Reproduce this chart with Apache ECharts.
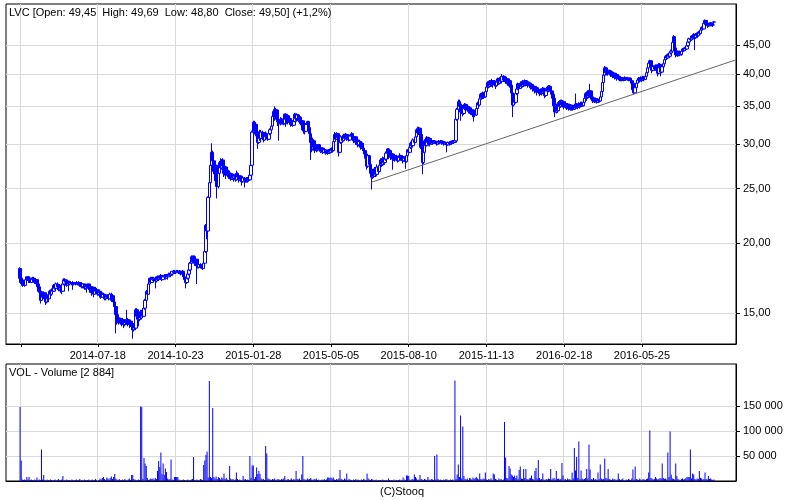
<!DOCTYPE html>
<html><head><meta charset="utf-8">
<script src="https://cdn.jsdelivr.net/npm/echarts@6/dist/echarts.min.js"></script>
<style>html,body{margin:0;padding:0;background:#fff}#c{width:800px;height:500px}</style>
</head><body><div id="c"></div>
<script>
const ticker = 'LVC';
const firstDate = '2014-03-27';
const categoryCount = 648;
const dataStartIndex = 12;
const tickDates = ['2014-04-15','2014-07-18','2014-10-23','2015-01-28','2015-05-05','2015-08-10','2015-11-13','2016-02-18','2016-05-25'];
const labelDates = ['2014-07-18','2014-10-23','2015-01-28','2015-05-05','2015-08-10','2015-11-13','2016-02-18','2016-05-25'];
const priceTicks = [15,20,25,30,35,40,45];
const volumeTicksK = [50,100,150];
const lastBar = {open:49.45, high:49.69, low:48.80, close:49.50, change:1.2, volume:2884};
const trendLine = {startIndex:324, startPrice:25.65, endIndex:647, endPrice:42.35};
// [open, close, low, high] per session
const ohlc = [
[18.0,17.3,17.2,18.1],[17.3,17.0,16.9,17.4],[17.0,16.8,16.7,17.1],[16.8,17.1,16.8,17.2],[17.1,16.8,16.7,17.1],[16.8,17.2,16.8,17.3],[17.2,17.4,17.1,17.4],[17.4,17.2,17.1,17.4],[17.2,17.3,17.0,17.4],[17.3,17.0,17.0,17.4],
[17.0,17.3,17.0,17.3],[17.3,17.2,17.1,17.4],[17.2,17.3,17.1,17.4],[17.3,17.0,16.9,17.3],[17.0,17.2,17.0,17.3],[17.2,16.9,16.8,17.2],[16.9,16.7,16.6,17.0],[16.7,16.4,16.3,16.8],[16.4,15.8,15.6,16.5],[15.8,16.3,15.8,16.4],
[16.3,16.0,15.9,16.4],[16.0,16.3,15.9,16.4],[16.3,15.9,15.8,16.3],[15.9,15.7,15.5,16.0],[15.7,16.1,15.6,16.2],[16.1,15.9,15.7,16.2],[15.9,16.4,15.9,16.5],[16.4,16.2,16.1,16.5],[16.2,16.5,16.1,16.6],[16.5,16.4,16.3,16.7],
[16.4,16.8,16.4,16.9],[16.8,16.6,16.5,16.9],[16.6,16.9,16.5,17.0],[16.9,16.7,16.6,17.0],[16.7,16.5,16.4,16.8],[16.5,16.8,16.4,16.9],[16.8,16.6,16.3,16.8],[16.6,16.4,16.2,16.7],[16.4,16.9,16.4,17.0],[16.9,17.2,16.8,17.3],
[17.2,17.1,17.0,17.3],[17.1,16.8,16.7,17.2],[16.8,17.1,16.8,17.2],[17.1,16.9,16.4,17.1],[16.9,17.0,16.8,17.1],[17.0,17.0,16.9,17.1],[17.0,16.9,16.8,17.0],[16.9,17.0,16.5,17.1],[17.0,16.9,16.8,17.0],[16.9,16.9,16.8,17.0],
[16.9,17.0,16.9,17.1],[17.0,16.9,16.8,17.0],[16.9,17.0,16.8,17.1],[17.0,16.8,16.7,17.0],[16.8,16.9,16.7,17.0],[16.9,16.7,16.6,17.0],[16.7,16.9,16.6,16.9],[16.9,16.6,16.5,16.9],[16.6,16.8,16.5,16.9],[16.8,16.7,16.3,16.8],
[16.7,16.9,16.6,16.9],[16.9,16.6,16.5,16.9],[16.6,16.5,16.3,16.7],[16.5,16.7,16.4,16.8],[16.7,16.3,16.1,16.7],[16.3,16.2,16.0,16.4],[16.2,16.6,16.2,16.7],[16.6,16.4,16.3,16.7],[16.4,16.5,16.3,16.6],[16.5,16.2,16.1,16.5],
[16.2,16.4,16.1,16.5],[16.4,16.3,16.1,16.4],[16.3,16.0,15.9,16.3],[16.0,16.2,16.0,16.3],[16.2,16.2,16.1,16.3],[16.2,15.9,15.8,16.2],[15.9,16.1,15.8,16.2],[16.1,16.0,15.9,16.2],[16.0,16.1,15.9,16.2],[16.1,15.9,15.8,16.1],
[15.9,16.2,15.9,16.3],[16.2,15.8,15.7,16.3],[15.8,16.1,15.7,16.2],[16.1,15.7,15.6,16.1],[15.7,15.4,15.3,15.8],[15.4,14.9,13.8,15.4],[14.9,14.5,14.3,15.0],[14.5,14.7,14.4,14.8],[14.7,14.4,14.3,14.8],[14.4,14.6,14.3,14.7],
[14.6,14.4,14.2,14.7],[14.4,14.6,14.3,14.7],[14.6,14.3,14.1,14.6],[14.3,14.5,14.2,14.6],[14.5,14.4,14.3,14.6],[14.4,14.6,14.3,15.2],[14.6,14.4,14.2,14.7],[14.4,14.3,14.1,14.5],[14.3,14.5,14.2,14.6],[14.5,14.2,14.0,14.5],
[14.2,14.0,13.5,14.3],[14.0,14.3,13.9,14.4],[14.3,14.1,14.0,14.4],[14.1,15.2,14.0,15.3],[15.2,14.8,14.6,15.3],[14.8,14.6,14.2,15.0],[14.6,15.0,14.5,15.1],[15.0,14.7,14.6,15.2],[14.7,15.1,14.6,15.2],[15.1,14.8,14.7,15.3],
[14.8,15.3,14.8,15.4],[15.3,15.8,15.2,15.9],[15.8,16.4,15.7,16.5],[16.4,16.2,16.1,16.5],[16.2,16.9,16.2,17.0],[16.9,17.3,16.8,17.3],[17.3,17.0,16.9,17.4],[17.0,17.3,17.0,17.4],[17.3,17.2,17.1,17.4],[17.2,17.3,17.1,17.4],
[17.3,17.1,16.6,17.4],[17.1,17.4,17.0,17.4],[17.4,17.2,17.1,17.5],[17.2,17.4,17.1,17.5],[17.4,17.3,17.2,17.5],[17.3,17.5,17.2,17.6],[17.5,17.2,17.1,17.5],[17.2,17.4,17.2,17.5],[17.4,17.5,17.3,17.6],[17.5,17.3,17.2,17.6],
[17.3,17.5,17.3,17.6],[17.5,17.4,17.2,17.6],[17.4,17.6,17.4,17.7],[17.6,17.5,17.4,17.7],[17.5,17.6,17.4,17.7],[17.6,17.8,17.5,17.8],[17.8,17.7,17.6,17.9],[17.7,17.8,17.6,17.9],[17.8,17.7,17.6,17.8],[17.7,17.8,17.7,17.9],
[17.8,17.8,17.7,17.9],[17.8,17.7,17.6,17.8],[17.7,17.8,17.6,17.9],[17.8,17.6,17.5,17.8],[17.6,17.8,17.5,17.9],[17.8,17.4,17.3,17.8],[17.4,17.2,17.1,17.5],[17.2,17.0,16.6,17.3],[17.0,17.3,16.9,17.4],[17.3,17.6,17.2,17.7],
[17.6,17.9,17.5,18.0],[17.9,18.4,17.8,18.5],[18.4,18.9,18.3,19.0],[18.9,18.5,18.4,19.0],[18.5,18.9,18.4,19.0],[18.9,18.4,18.2,19.0],[18.4,18.7,18.3,18.9],[18.7,18.2,16.9,18.7],[18.2,18.1,18.0,18.3],[18.1,18.3,18.0,18.4],
[18.3,18.1,18.0,18.4],[18.1,18.2,18.0,18.3],[18.2,18.0,17.9,18.3],[18.0,18.4,18.0,18.5],[18.4,19.3,18.3,19.4],[19.3,21.5,19.2,21.6],[21.5,21.0,20.3,21.6],[21.0,24.1,21.0,24.2],[24.1,25.6,24.0,25.7],[25.6,27.5,25.5,27.9],
[27.5,29.0,27.0,30.1],[29.0,28.0,27.5,29.2],[28.0,26.8,26.5,28.3],[26.8,27.5,26.0,28.0],[27.5,25.8,25.5,27.6],[25.8,25.2,24.0,26.2],[25.2,26.6,25.0,26.8],[26.6,27.8,26.4,28.0],[27.8,27.2,26.8,28.3],[27.2,28.1,27.0,28.2],
[28.1,27.4,27.0,28.3],[27.4,26.6,26.2,27.5],[26.6,27.3,26.4,27.5],[27.3,26.4,26.0,27.4],[26.4,26.8,26.2,27.0],[26.8,26.2,26.0,27.0],[26.2,26.6,26.0,26.9],[26.6,26.0,25.8,26.7],[26.0,26.5,25.9,26.6],[26.5,26.1,25.9,26.6],
[26.1,26.3,25.7,26.4],[26.3,25.9,25.7,26.4],[25.9,26.6,25.8,26.9],[26.6,26.2,26.0,26.7],[26.2,25.9,25.6,26.3],[25.9,26.3,25.8,26.4],[26.3,26.0,25.8,26.4],[26.0,25.7,25.3,26.1],[25.7,26.1,25.6,26.2],[26.1,25.8,25.1,26.2],
[25.8,26.0,25.6,26.1],[26.0,25.8,25.6,26.2],[25.8,26.1,25.6,26.2],[26.1,25.9,25.7,26.3],[25.9,26.4,25.8,26.5],[26.4,27.5,26.3,27.6],[27.5,31.5,27.4,31.7],[31.5,32.8,31.3,33.0],[32.8,31.6,31.2,33.0],[31.6,32.5,31.4,32.8],
[32.5,31.0,30.3,32.6],[31.0,30.2,29.4,31.2],[30.2,31.3,30.0,31.6],[31.3,30.7,30.4,31.8],[30.7,31.5,30.5,31.8],[31.5,30.8,30.6,31.7],[30.8,30.5,30.2,31.0],[30.5,31.4,30.4,31.5],[31.4,30.9,30.6,31.6],[30.9,31.2,30.7,31.4],
[31.2,30.6,30.4,31.3],[30.6,31.3,30.5,31.5],[31.3,31.8,31.1,32.0],[31.8,32.3,31.6,32.5],[32.3,33.6,32.2,33.8],[33.6,34.3,33.2,34.6],[34.3,33.5,33.0,35.0],[33.5,34.5,33.3,34.8],[34.5,33.2,32.8,34.6],[33.2,33.0,32.3,33.6],
[33.0,32.6,30.4,33.2],[32.6,33.2,32.4,33.5],[33.2,32.7,32.5,33.4],[32.7,33.1,32.5,33.3],[33.1,32.6,32.4,33.2],[32.6,33.9,32.5,34.0],[33.9,33.2,32.2,34.0],[33.2,33.7,33.0,33.9],[33.7,32.8,32.5,33.8],[32.8,33.3,32.6,33.5],
[33.3,32.5,32.2,33.4],[32.5,33.0,32.3,33.2],[33.0,32.4,32.2,33.1],[32.4,32.9,32.3,33.1],[32.9,33.9,32.8,34.1],[33.9,33.3,33.0,34.0],[33.3,33.8,33.1,34.0],[33.8,33.0,32.8,33.9],[33.0,33.5,32.9,33.7],[33.5,32.6,32.4,33.6],
[32.6,33.0,31.9,33.2],[33.0,31.8,31.6,33.1],[31.8,32.4,31.3,32.6],[32.4,31.6,31.2,32.5],[31.6,32.5,31.5,32.7],[32.5,32.9,32.2,33.0],[32.9,32.1,31.8,33.0],[32.1,31.3,31.0,32.2],[31.3,30.2,28.1,31.4],[30.2,29.4,29.0,30.5],
[29.4,30.4,29.2,30.8],[30.4,29.6,29.3,30.6],[29.6,29.2,28.9,29.8],[29.2,29.8,29.0,30.0],[29.8,29.3,29.1,30.0],[29.3,29.9,29.2,30.0],[29.9,29.4,29.2,30.0],[29.4,29.1,28.9,29.6],[29.1,29.5,29.0,29.6],[29.5,29.0,28.8,29.6],
[29.0,29.3,28.9,29.4],[29.3,28.9,28.7,29.4],[28.9,29.2,28.8,29.3],[29.2,28.9,28.7,29.3],[28.9,29.3,28.8,29.4],[29.3,29.0,28.8,29.4],[29.0,29.4,28.9,29.5],[29.4,29.2,29.0,29.6],[29.2,30.3,29.1,30.5],[30.3,31.2,30.2,31.5],
[31.2,30.6,30.4,31.4],[30.6,31.3,30.5,31.5],[31.3,30.8,30.4,31.4],[30.8,29.0,28.5,30.9],[29.0,30.2,28.9,30.4],[30.2,30.9,30.0,31.1],[30.9,30.4,30.2,31.1],[30.4,31.1,30.3,31.3],[31.1,30.7,30.5,31.3],[30.7,31.2,30.6,31.4],
[31.2,30.6,30.4,31.3],[30.6,30.9,30.5,31.1],[30.9,30.5,30.3,31.0],[30.5,31.0,30.4,31.2],[31.0,31.3,30.8,31.5],[31.3,30.8,30.6,31.4],[30.8,30.4,30.1,30.9],[30.4,30.9,30.3,31.0],[30.9,30.2,29.9,31.0],[30.2,30.5,30.0,30.7],
[30.5,29.9,29.6,30.6],[29.9,30.3,29.7,30.5],[30.3,29.6,29.3,30.4],[29.6,30.1,29.4,30.3],[30.1,29.5,29.2,30.2],[29.5,29.2,29.0,29.7],[29.2,28.8,28.5,29.3],[28.8,28.3,28.0,28.9],[28.3,27.4,27.0,28.5],[27.4,28.6,27.2,28.8],
[28.6,27.6,27.3,28.7],[27.6,26.6,26.3,27.8],[26.6,26.2,24.9,26.8],[26.2,26.9,26.0,27.1],[26.9,26.3,26.1,27.0],[26.3,27.1,26.2,27.3],[27.1,26.5,26.2,27.2],[26.5,27.3,26.4,27.6],[27.3,26.8,26.5,27.4],[26.8,27.5,26.7,27.7],
[27.5,28.1,27.3,28.3],[28.1,27.6,27.3,28.2],[27.6,28.3,27.4,28.5],[28.3,27.8,27.5,28.4],[27.8,28.2,27.6,28.4],[28.2,28.9,28.0,29.1],[28.9,29.4,28.7,29.5],[29.4,28.7,28.2,29.5],[28.7,29.2,28.5,29.4],[29.2,28.4,28.1,29.3],
[28.4,28.8,28.2,29.0],[28.8,28.2,27.0,28.9],[28.2,28.6,28.0,28.8],[28.6,28.1,27.9,28.7],[28.1,28.5,28.0,28.7],[28.5,28.0,27.8,28.6],[28.0,28.4,27.9,28.6],[28.4,28.6,28.2,28.9],[28.6,28.2,28.0,28.7],[28.2,28.5,28.1,28.7],
[28.5,28.0,27.7,28.6],[28.0,28.3,27.9,28.5],[28.3,27.9,27.1,28.4],[27.9,28.6,27.8,28.7],[28.6,29.3,28.5,29.4],[29.3,29.0,28.8,29.5],[29.0,29.6,28.9,29.7],[29.6,30.1,29.4,30.3],[30.1,29.8,29.6,30.3],[29.8,30.5,29.7,30.7],
[30.5,30.2,30.0,30.8],[30.2,30.9,30.1,31.1],[30.9,31.8,30.8,32.0],[31.8,31.4,31.1,32.2],[31.4,32.0,31.2,32.2],[32.0,31.2,30.9,32.1],[31.2,29.6,29.4,31.3],[29.6,27.8,26.5,29.7],[27.8,29.0,27.6,29.3],[29.0,30.4,28.9,30.6],
[30.4,29.8,29.5,30.6],[29.8,30.8,29.7,31.0],[30.8,30.2,29.9,30.9],[30.2,30.7,30.0,30.9],[30.7,30.0,29.7,30.8],[30.0,30.4,29.9,30.6],[30.4,30.1,29.9,30.5],[30.1,30.4,30.0,30.5],[30.4,30.2,30.0,30.5],[30.2,30.3,30.0,30.4],
[30.3,30.0,29.8,30.4],[30.0,30.3,29.9,30.4],[30.3,30.2,30.0,30.5],[30.2,30.4,30.1,30.5],[30.4,30.1,29.9,30.5],[30.1,30.3,30.0,30.4],[30.3,30.0,29.8,30.4],[30.0,30.2,29.9,30.3],[30.2,30.1,29.9,30.3],[30.1,29.9,29.0,30.2],
[29.9,30.2,29.8,30.3],[30.2,30.0,29.8,30.3],[30.0,30.3,29.9,30.4],[30.3,30.1,29.9,30.4],[30.1,30.4,30.0,30.5],[30.4,30.2,30.0,30.5],[30.2,30.4,30.1,30.5],[30.4,33.2,30.3,33.3],[33.2,34.6,33.0,34.8],[34.6,35.7,34.4,36.0],
[35.7,35.0,34.6,36.0],[35.0,34.2,33.0,35.2],[34.2,35.1,34.0,35.4],[35.1,34.0,33.6,35.2],[34.0,34.7,33.8,34.9],[34.7,35.3,34.5,35.5],[35.3,34.5,34.2,35.4],[34.5,35.0,34.3,35.2],[35.0,34.3,34.0,35.1],[34.3,34.8,34.1,35.0],
[34.8,34.0,33.8,34.9],[34.0,34.5,33.8,34.7],[34.5,33.8,33.5,34.6],[33.8,34.3,32.9,34.5],[34.3,33.8,33.5,34.4],[33.8,34.7,33.7,34.9],[34.7,35.5,34.5,35.7],[35.5,35.2,34.9,35.8],[35.2,36.1,35.0,36.3],[36.1,36.8,35.9,37.0],
[36.8,36.3,36.0,37.0],[36.3,37.0,36.1,37.2],[37.0,36.4,36.1,37.1],[36.4,37.2,36.3,37.4],[37.2,37.9,37.0,38.1],[37.9,38.6,37.6,38.8],[38.6,38.0,37.7,38.9],[38.0,38.7,37.8,39.0],[38.7,38.2,37.9,39.0],[38.2,38.9,38.0,39.2],
[38.9,38.3,37.8,39.0],[38.3,38.8,38.0,39.0],[38.8,38.1,37.6,38.9],[38.1,38.7,37.9,38.9],[38.7,39.2,38.4,39.4],[39.2,38.5,38.2,39.3],[38.5,39.3,38.3,39.5],[39.3,38.8,38.5,39.6],[38.8,39.6,38.6,40.0],[39.6,39.0,38.7,39.8],
[39.0,39.5,38.8,39.7],[39.5,38.7,38.4,39.6],[38.7,39.2,38.5,39.4],[39.2,38.4,38.1,39.3],[38.4,38.9,38.0,39.1],[38.9,38.2,37.8,39.0],[38.2,37.0,36.6,38.4],[37.0,35.2,33.5,37.1],[35.2,36.5,35.0,36.8],[36.5,35.6,35.2,36.7],
[35.6,36.9,35.4,37.1],[36.9,37.6,36.7,37.8],[37.6,38.4,37.4,38.6],[38.4,37.7,37.3,38.5],[37.7,38.5,37.6,38.8],[38.5,38.0,37.7,38.7],[38.0,38.8,37.8,39.0],[38.8,38.2,37.9,38.9],[38.2,38.9,38.0,39.1],[38.9,38.3,38.0,39.0],
[38.3,38.7,38.1,38.9],[38.7,38.1,37.8,38.8],[38.1,38.5,37.9,38.7],[38.5,37.8,37.5,38.6],[37.8,38.3,37.6,38.5],[38.3,37.6,37.2,38.4],[37.6,38.0,37.4,38.2],[38.0,37.3,36.9,38.1],[37.3,37.8,37.1,38.0],[37.8,37.1,36.6,37.9],
[37.1,37.5,36.8,37.7],[37.5,36.9,36.5,37.6],[36.9,37.5,36.7,37.7],[37.5,37.0,36.6,37.6],[37.0,37.7,36.8,37.9],[37.7,37.2,36.9,37.8],[37.2,36.6,36.2,37.3],[36.6,37.3,36.4,37.5],[37.3,37.9,37.1,38.1],[37.9,37.4,37.1,38.2],
[37.4,38.0,37.2,38.2],[38.0,37.3,37.0,38.1],[37.3,36.8,36.5,37.5],[36.8,36.2,35.8,36.9],[36.2,35.1,34.8,36.3],[35.1,34.2,33.5,35.3],[34.2,35.0,34.0,35.4],[35.0,34.4,34.1,35.2],[34.4,35.6,34.3,35.8],[35.6,35.0,34.7,35.9],
[35.0,35.8,34.8,36.0],[35.8,35.2,34.9,36.0],[35.2,35.7,35.0,35.9],[35.7,34.9,34.6,35.8],[34.9,35.4,34.7,35.6],[35.4,34.8,34.5,35.5],[34.8,35.3,34.6,35.5],[35.3,34.7,34.4,35.4],[34.7,35.2,34.5,35.4],[35.2,34.6,34.4,35.3],
[34.6,35.0,34.4,35.2],[35.0,34.6,34.4,35.1],[34.6,35.2,34.5,35.4],[35.2,34.8,34.6,36.9],[34.8,35.3,34.7,35.5],[35.3,34.9,34.6,35.4],[34.9,35.4,34.8,35.6],[35.4,35.0,34.7,35.5],[35.0,35.5,34.9,35.7],[35.5,35.1,34.9,35.7],
[35.1,35.6,35.0,35.8],[35.6,36.2,35.4,36.4],[36.2,36.9,36.0,37.1],[36.9,36.3,35.8,37.0],[36.3,37.2,36.1,37.4],[37.2,36.5,36.2,37.4],[36.5,37.3,36.3,38.4],[37.3,36.4,36.0,37.4],[36.4,35.8,35.5,36.5],[35.8,36.2,35.6,36.4],
[36.2,35.7,35.5,36.3],[35.7,36.1,35.6,36.3],[36.1,35.6,35.4,36.2],[35.6,36.0,35.5,36.2],[36.0,35.8,35.5,36.1],[35.8,36.4,35.7,36.6],[36.4,37.2,36.2,37.4],[37.2,38.6,37.0,38.8],[38.6,39.8,38.4,40.0],[39.8,41.0,39.6,41.3],
[41.0,40.2,39.8,41.2],[40.2,40.6,39.9,40.8],[40.6,40.0,39.7,40.8],[40.0,40.5,39.8,40.7],[40.5,39.8,39.5,40.6],[39.8,40.3,39.6,40.5],[40.3,39.6,39.3,40.4],[39.6,40.1,39.4,40.3],[40.1,39.4,39.1,40.2],[39.4,39.9,39.2,40.1],
[39.9,39.2,38.9,40.0],[39.2,39.6,39.0,39.8],[39.6,39.0,38.8,39.7],[39.0,39.4,38.8,39.6],[39.4,39.0,38.8,39.5],[39.0,39.3,38.9,39.5],[39.3,39.0,38.8,39.4],[39.0,39.4,38.9,39.6],[39.4,39.1,38.9,39.5],[39.1,39.3,38.9,39.5],
[39.3,39.0,38.8,39.4],[39.0,39.3,38.9,39.4],[39.3,38.9,38.8,39.4],[38.9,38.5,38.3,39.0],[38.5,37.5,37.2,38.6],[37.5,37.0,36.8,37.8],[37.0,37.8,36.9,38.0],[37.8,38.5,37.6,38.7],[38.5,39.0,38.3,39.2],[39.0,39.3,38.8,39.5],
[39.3,38.9,38.6,39.4],[38.9,39.4,38.8,39.6],[39.4,39.0,38.7,39.5],[39.0,39.5,38.9,39.7],[39.5,39.1,38.8,39.6],[39.1,39.6,39.0,39.8],[39.6,40.2,39.4,40.4],[40.2,41.0,40.0,41.2],[41.0,41.8,40.7,42.0],[41.8,42.2,41.5,42.4],
[42.2,41.4,41.0,42.3],[41.4,40.6,40.1,41.5],[40.6,41.2,40.4,41.4],[41.2,40.8,40.5,41.4],[40.8,41.4,40.5,41.6],[41.4,40.9,40.6,41.6],[40.9,40.1,39.6,41.0],[40.1,41.6,39.9,41.8],[41.6,41.0,40.7,41.8],[41.0,40.3,39.6,41.1],
[40.3,41.2,40.1,41.4],[41.2,41.7,41.0,41.9],[41.7,42.4,41.5,42.6],[42.4,43.0,42.2,43.2],[43.0,42.7,42.4,43.3],[42.7,43.3,42.5,43.5],[43.3,43.0,42.8,43.6],[43.0,43.6,42.9,43.8],[43.6,43.9,43.3,44.2],[43.9,45.5,43.8,45.8],
[45.5,46.6,45.2,46.9],[46.6,44.5,43.2,46.7],[44.5,43.4,42.8,44.6],[43.4,43.9,43.0,44.1],[43.9,43.2,42.9,44.0],[43.2,43.7,43.0,43.9],[43.7,43.3,43.0,44.0],[43.3,43.9,43.1,44.1],[43.9,44.3,43.7,44.5],[44.3,44.0,43.8,44.5],
[44.0,44.5,43.9,44.7],[44.5,44.3,44.0,44.8],[44.3,44.9,44.2,45.1],[44.9,45.6,44.7,45.8],[45.6,46.2,45.4,46.4],[46.2,46.0,45.7,46.5],[46.0,46.7,45.8,46.9],[46.7,46.3,46.0,47.0],[46.3,47.0,46.1,47.3],[47.0,46.4,44.1,47.1],
[46.4,47.1,46.2,47.3],[47.1,46.8,46.5,47.4],[46.8,47.5,46.6,47.7],[47.5,47.2,46.9,47.8],[47.2,47.9,47.0,48.1],[47.9,48.4,47.6,48.6],[48.4,48.1,47.8,48.6],[48.1,49.2,48.0,49.5],[49.2,49.8,48.9,50.0],[49.8,49.3,48.9,49.9],
[49.3,48.7,48.3,49.4],[48.7,49.1,48.5,49.3],[49.1,48.8,48.6,49.4],[48.8,49.3,48.6,49.5],[49.3,48.9,48.6,49.4],[48.9,48.9,48.5,49.2],[49.45,49.50,48.80,49.69]
];
// volume in thousands of shares per session
const volumeK = [
148,41,3,2,3,2,8,3,8,2, 3,2,1,3,2,7,2,3,2,63, 3,12,2,1,3,2,1,3,2,1, 2,3,1,2,4,1,2,3,10,2,
1,3,2,1,2,1,3,2,1,2, 3,1,2,4,1,2,1,3,2,1, 2,3,1,2,3,1,2,4,2,1, 2,5,3,6,8,4,2,7,5,3,
6,9,4,8,14,5,3,2,4,2, 1,3,2,4,2,1,3,5,2,12, 12,4,3,2,1,3,2,149,148,4, 46,35,30,6,2,3,5,4,5,3,
6,4,20,40,28,57,14,35,12,25, 18,5,3,4,43,3,2,8,8,8, 8,3,1,2,1,3,2,1,2,3, 1,2,3,4,48,2,1,3,2,1,
4,3,2,32,41,52,59,7,200,8, 6,146,8,5,9,4,8,6,3,7, 5,15,4,6,3,2,30,5,3,4, 2,3,17,4,2,3,2,1,10,3,
4,2,3,2,50,6,31,31,4,8, 27,14,20,14,5,3,4,2,70,55, 5,4,3,2,4,3,5,2,3,4, 3,2,4,3,5,10,2,3,4,2,
3,5,2,4,3,20,4,3,5,2, 13,50,4,3,2,5,3,4,6,3, 2,4,3,5,2,3,1,2,3,2, 4,2,3,7,7,6,7,5,7,3,
2,4,3,5,22,4,3,2,5,3, 15,2,4,3,2,1,3,2,4,2, 3,2,1,3,2,4,3,2,15,5, 3,2,4,3,1,2,3,1,2,1,
2,1,3,2,1,2,1,5,2,1, 2,1,3,1,2,1,2,3,1,2, 7,3,2,11,11,10,3,2,4,3, 13,8,5,2,3,12,4,3,2,4,
3,2,8,3,2,4,3,2,50,3, 53,4,2,3,2,1,3,2,4,3, 2,1,3,2,3,1,201,4,13,33, 8,131,5,109,10,4,3,5,2,6,
5,3,7,4,6,8,5,3,15,4, 3,5,4,17,3,2,4,3,5,2, 15,13,4,3,2,5,3,4,2,3, 118,47,6,5,30,25,13,11,8,11,
6,11,4,22,29,5,4,24,6,24, 4,3,5,6,11,4,3,20,26,5, 42,6,3,4,15,3,2,4,3,5, 4,24,3,5,6,3,20,4,5,3,
4,36,11,3,4,2,5,3,4,2, 17,5,66,21,48,6,79,4,21,5, 3,4,6,24,5,73,23,4,3,6, 3,4,2,17,4,33,5,3,4,45,
6,5,24,4,3,2,5,3,4,2, 3,15,4,2,3,5,2,1,3,2, 4,3,2,5,23,3,29,4,3,2, 5,3,2,4,3,2,4,5,17,101,
6,5,3,4,8,5,3,4,6,5, 35,6,4,5,3,57,8,99,13,5, 4,3,35,10,4,3,2,4,5,3, 4,6,8,8,8,63,5,15,13,4,
3,5,4,20,6,5,3,4,17,4, 3,10,4,5,3,2,2.884
];

const FONT = '"Liberation Sans", Arial, sans-serif';
function buildCalendar(start, n) {
  const out = [];
  const p = start.split('-').map(Number);
  const d = new Date(Date.UTC(p[0], p[1] - 1, p[2]));
  while (out.length < n) {
    const wd = d.getUTCDay();
    if (wd !== 0 && wd !== 6) out.push(d.toISOString().slice(0, 10));
    d.setUTCDate(d.getUTCDate() + 1);
  }
  return out;
}
const dates = buildCalendar(firstDate, categoryCount);
function pad(arr) {
  const out = [];
  for (let i = 0; i < categoryCount; i++) {
    const k = i - dataStartIndex;
    out.push(k >= 0 && k < arr.length ? arr[k] : '-');
  }
  return out;
}
const candleData = pad(ohlc);
const volData = pad(volumeK);
const fmtPrice = v => Number(v).toFixed(2).replace('.', ',');
const fmtThousands = v => String(Math.round(v)).replace(/\B(?=(\d{3})+(?!\d))/g, ' ');
const pct = (lastBar.change >= 0 ? '+' : '') + String(lastBar.change).replace('.', ',');
const mainTitle = ticker + ' [Open: ' + fmtPrice(lastBar.open) + '  High: ' + fmtPrice(lastBar.high) +
  '  Low: ' + fmtPrice(lastBar.low) + '  Close: ' + fmtPrice(lastBar.close) + '] (' + pct + '%)';
const volTitle = 'VOL - Volume [' + fmtThousands(lastBar.volume) + ']';

const txt = {fontSize: 11, fontWeight: 'normal', color: '#000', fontFamily: FONT};
const gridLine = {show: true, lineStyle: {color: '#d9d9d9', width: 1}};
const chart = echarts.init(document.getElementById('c'), null, {renderer: 'canvas'});
chart.setOption({
  animation: false,
  backgroundColor: '#fff',
  title: [
    {text: mainTitle, left: 9, top: 7, padding: 0, textStyle: txt},
    {text: volTitle, left: 9, top: 367, padding: 0, textStyle: txt},
    {text: '(C)Stooq', left: 380, top: 486, padding: 0, textStyle: txt}
  ],
  grid: [
    {left: 6, top: 4, width: 730, height: 340, show: true, borderColor: '#000', borderWidth: 1, backgroundColor: 'transparent'},
    {left: 6, top: 364, width: 730, height: 117, show: true, borderColor: '#000', borderWidth: 1, backgroundColor: 'transparent'}
  ],
  xAxis: [
    {type: 'category', gridIndex: 0, data: dates, boundaryGap: true,
     axisLine: {show: true, lineStyle: {color: '#000'}},
     axisTick: {show: true, customValues: tickDates, alignWithLabel: true, length: 3, lineStyle: {color: '#000'}},
     axisLabel: {customValues: labelDates, margin: 6, fontSize: 11, color: '#000', fontFamily: FONT},
     splitLine: gridLine},
    {type: 'category', gridIndex: 1, data: dates, boundaryGap: true,
     axisLine: {show: true, lineStyle: {color: '#000'}},
     axisTick: {show: false, customValues: tickDates, alignWithLabel: true},
     axisLabel: {show: false},
     splitLine: gridLine}
  ],
  yAxis: [
    {type: 'log', logBase: 10, gridIndex: 0, position: 'right', min: 13.21, max: 53.28,
     axisLine: {show: true, lineStyle: {color: '#000'}},
     axisTick: {show: true, customValues: priceTicks, length: 4, lineStyle: {color: '#000'}},
     axisLabel: {customValues: priceTicks, formatter: v => fmtPrice(v), margin: 7, fontSize: 11, color: '#000', fontFamily: FONT},
     splitLine: gridLine},
    {type: 'value', gridIndex: 1, position: 'right', min: 0, max: 234,
     axisLine: {show: true, lineStyle: {color: '#000'}},
     axisTick: {show: true, customValues: volumeTicksK, length: 4, lineStyle: {color: '#000'}},
     axisLabel: {customValues: volumeTicksK, formatter: v => fmtThousands(v * 1000), margin: 7, fontSize: 11, color: '#000', fontFamily: FONT},
     splitLine: gridLine}
  ],
  series: [
    {type: 'candlestick', xAxisIndex: 0, yAxisIndex: 0, data: candleData, large: false, barWidth: 3,
     itemStyle: {color: '#ffffff', color0: '#0000ff', borderColor: '#0000ff', borderColor0: '#0000ff', borderWidth: 1},
     markLine: {silent: true, symbol: ['none', 'none'], label: {show: false},
       lineStyle: {color: '#666666', width: 1, type: 'solid'},
       data: [[{coord: [trendLine.startIndex, trendLine.startPrice]}, {coord: [trendLine.endIndex, trendLine.endPrice]}]]}},
    {type: 'bar', xAxisIndex: 1, yAxisIndex: 1, data: volData, barWidth: 1, large: false,
     itemStyle: {color: '#0000ff'}}
  ]
});
</script>
</body></html>
